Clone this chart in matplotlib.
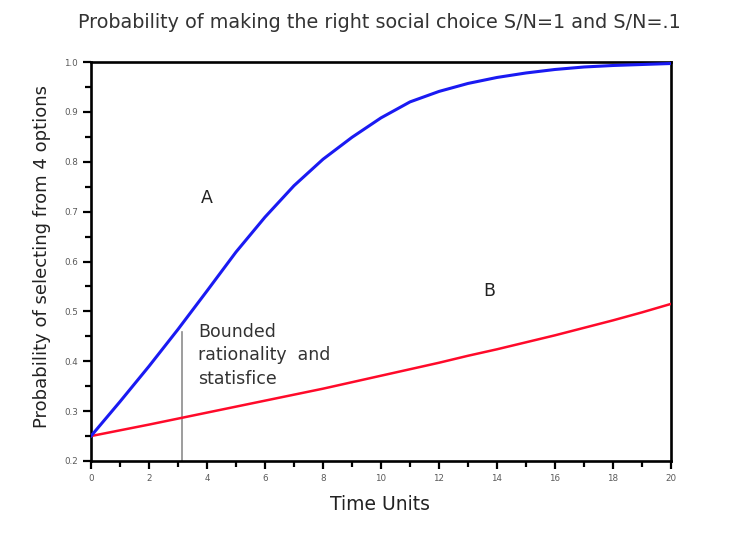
import matplotlib
matplotlib.use("Agg")
import matplotlib.pyplot as plt
from matplotlib.ticker import MultipleLocator, FormatStrFormatter

plt.rcParams['font.family'] = ['DejaVu Sans']

time_units = [0, 1, 2, 3, 4, 5, 6, 7, 8, 9, 10, 11, 12, 13, 14, 15, 16, 17, 18, 19, 20]
curve_a = [0.25, 0.319, 0.390, 0.464, 0.541, 0.619, 0.689, 0.752, 0.805, 0.849, 0.888,
           0.920, 0.941, 0.957, 0.969, 0.978, 0.985, 0.990, 0.993, 0.995, 0.997]
curve_b = [0.25, 0.2615, 0.273, 0.285, 0.297, 0.309, 0.321, 0.333, 0.345, 0.358, 0.371,
           0.384, 0.397, 0.411, 0.424, 0.438, 0.452, 0.467, 0.482, 0.498, 0.515]

title = "Probability of making the right social choice S/N=1 and S/N=.1"
xlabel = "Time Units"
ylabel = "Probability of selecting from 4 options"
label_a = "A"
label_b = "B"
note = "Bounded\nrationality  and\nstatisfice"
bound_x = 3.15
bound_top = 0.459

fig = plt.figure(figsize=(7.38, 5.33), dpi=100)
ax = fig.add_axes([91/738, 1 - 461/533, (671-91)/738, (461-62)/533])

ax.plot(time_units, curve_b, color='#ff0a2a', lw=1.8, zorder=3)
ax.plot(time_units, curve_a, color='#1a1af2', lw=2.2, zorder=4)
ax.plot([bound_x, bound_x], [0.2, bound_top], color='#8c8c8c', lw=1.2, zorder=2)

ax.set_xlim(0, 20)
ax.set_ylim(0.2, 1.0)
ax.xaxis.set_major_locator(MultipleLocator(2))
ax.xaxis.set_minor_locator(MultipleLocator(1))
ax.yaxis.set_major_locator(MultipleLocator(0.1))
ax.yaxis.set_minor_locator(MultipleLocator(0.05))
ax.yaxis.set_major_formatter(FormatStrFormatter('%.1f'))
ax.tick_params(which='both', direction='out', color='black', width=1.6, labelsize=6.3,
               labelcolor='#5a5a5a')
ax.tick_params(which='major', length=5.5)
ax.tick_params(which='minor', length=4.5)
ax.tick_params(axis='x', pad=4)
ax.tick_params(axis='y', pad=4)
for s in ax.spines.values():
    s.set_linewidth(1.9)
    s.set_color('black')

ax.text(4.0, 0.727, label_a, fontsize=12.5, color='#222222', ha='center', va='center')
ax.text(13.72, 0.541, label_b, fontsize=12.5, color='#222222', ha='center', va='center')
ax.text(3.69, 0.477, note, fontsize=12.5, color='#333333', ha='left', va='top',
        linespacing=1.4)

fig.text(379/738, 1 - 22/533, title, fontsize=13.8, color='#333333', ha='center', va='center')
fig.text(380/738, 1 - 505/533, xlabel, fontsize=13.5, color='#222222', ha='center', va='center')
fig.text(42/738, 1 - 257/533, ylabel, fontsize=13, color='#222222', ha='center', va='center',
         rotation=90)

fig.savefig("out.png", dpi=100)
